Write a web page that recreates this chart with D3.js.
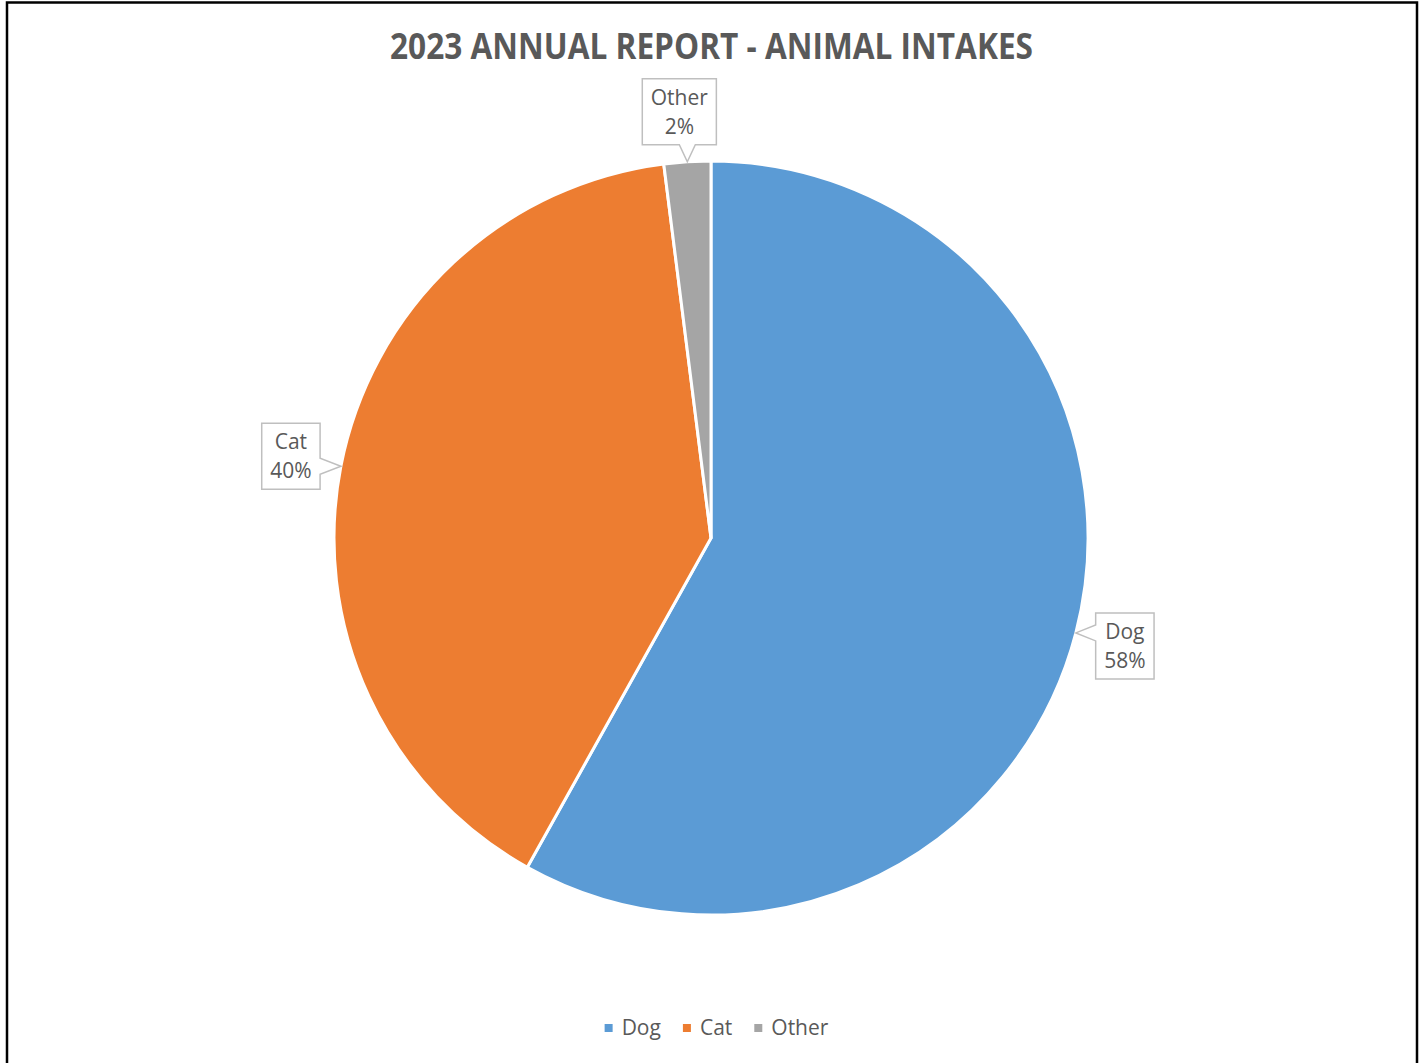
<!DOCTYPE html>
<html>
<head>
<meta charset="utf-8">
<script src="https://cdn.jsdelivr.net/npm/d3@7"></script>
<style>
  html, body { margin: 0; padding: 0; background: #fff; }
  svg { display: block; }
</style>
</head>
<body>
<svg id="chart" width="1425" height="1063"></svg>
<script>
// ---- data ----
const categories = ["Dog", "Cat", "Other"];
const values = [58.1, 39.9, 2.0];
const colors = ["#5B9BD5", "#ED7D31", "#A5A5A5"];
const titleText = "2023 ANNUAL REPORT - ANIMAL INTAKES";

// ---- layout ----
const W = 1425, H = 1063;
const cx = 711, cy = 538, R = 377;
const textColor = "#595959";
const fontFamily = "'Open Sans', 'Liberation Sans', sans-serif";
// callout box offsets relative to pointer tip (dx, dy of box centre)
const calloutLayout = {
  Dog:   { side: "left",   dx: 49,  dy: 13 },
  Cat:   { side: "right",  dx: -50, dy: -10 },
  Other: { side: "bottom", dx: -8,  dy: -50 }
};

const svg = d3.select("#chart");

// frame
svg.append("path")
  .attr("d", `M7,${H} L7,2.5 L1417,2.5 L1417,${H}`)
  .attr("fill", "none").attr("stroke", "#000").attr("stroke-width", 2.5);

// title
svg.append("text")
  .attr("x", 711.5).attr("y", 59)
  .attr("text-anchor", "middle")
  .attr("font-family", fontFamily)
  .attr("font-weight", 700)
  .attr("font-size", 35)
  .attr("fill", textColor)
  .attr("textLength", 643)
  .attr("lengthAdjust", "spacingAndGlyphs")
  .text(titleText);

// pie
const data = categories.map((c, i) => ({ name: c, value: values[i], color: colors[i] }));
const pie = d3.pie().value(d => d.value).sort(null);
const arcs = pie(data);
const arc = d3.arc().innerRadius(0).outerRadius(R);

const g = svg.append("g").attr("transform", `translate(${cx},${cy})`);
g.selectAll("path.slice").data(arcs).enter().append("path")
  .attr("class", "slice")
  .attr("d", arc)
  .attr("fill", d => d.data.color)
  .attr("stroke", "#fff")
  .attr("stroke-width", 3)
  .attr("stroke-linejoin", "round");

// callouts
const total = d3.sum(values);
const fs = 21, lh = 29;
arcs.forEach(a => {
  const name = a.data.name;
  const lay = calloutLayout[name];
  const mid = (a.startAngle + a.endAngle) / 2;
  const tx = cx + Math.sin(mid) * R;
  const ty = cy - Math.cos(mid) * R;
  const pct = Math.round(a.data.value / total * 100) + "%";

  const cg = svg.append("g");
  const t1 = cg.append("text").attr("font-family", fontFamily).attr("font-size", fs)
    .attr("fill", textColor).attr("text-anchor", "middle").text(name);
  const t2 = cg.append("text").attr("font-family", fontFamily).attr("font-size", fs)
    .attr("fill", textColor).attr("text-anchor", "middle").text(pct);
  const tw = Math.max(t1.node().getComputedTextLength(), t2.node().getComputedTextLength());
  const bw = tw + 17, bh = 66;
  const bx = tx + lay.dx, by = ty + lay.dy;
  const x0 = bx - bw / 2, x1 = bx + bw / 2, y0 = by - bh / 2, y1 = by + bh / 2;
  const hb = 8;
  let d;
  if (lay.side === "bottom") {
    const px = Math.min(Math.max(tx, x0 + hb + 2), x1 - hb - 2);
    d = `M${x0},${y0} L${x1},${y0} L${x1},${y1} L${px + hb},${y1} L${tx},${ty} L${px - hb},${y1} L${x0},${y1} Z`;
  } else if (lay.side === "right") {
    const py = Math.min(Math.max(ty, y0 + hb + 2), y1 - hb - 2);
    d = `M${x0},${y0} L${x1},${y0} L${x1},${py - hb} L${tx},${ty} L${x1},${py + hb} L${x1},${y1} L${x0},${y1} Z`;
  } else {
    const py = Math.min(Math.max(ty, y0 + hb + 2), y1 - hb - 2);
    d = `M${x0},${y0} L${x1},${y0} L${x1},${y1} L${x0},${y1} L${x0},${py + hb} L${tx},${ty} L${x0},${py - hb} Z`;
  }
  cg.insert("path", "text").attr("d", d)
    .attr("fill", "#fff").attr("stroke", "#BFBFBF").attr("stroke-width", 1.5);
  t1.attr("x", bx).attr("y", by - 14 + 7);
  t2.attr("x", bx).attr("y", by + 15 + 7);
});

// legend
const legendY = 1028;
const lg = svg.append("g");
const items = [];
data.forEach(d => {
  const it = lg.append("g");
  it.append("rect").attr("x", 0).attr("y", -4).attr("width", 8).attr("height", 8).attr("fill", d.color);
  const t = it.append("text").attr("x", 17).attr("y", 7)
    .attr("font-family", fontFamily).attr("font-size", fs).attr("fill", textColor).text(d.name);
  const w = 17 + t.node().getComputedTextLength();
  items.push({ it, w });
});
const gap = 22;
const totalW = d3.sum(items, d => d.w) + gap * (items.length - 1);
let x = 716.5 - totalW / 2;
items.forEach(d => { d.it.attr("transform", `translate(${x},${legendY})`); x += d.w + gap; });
</script>
</body>
</html>
